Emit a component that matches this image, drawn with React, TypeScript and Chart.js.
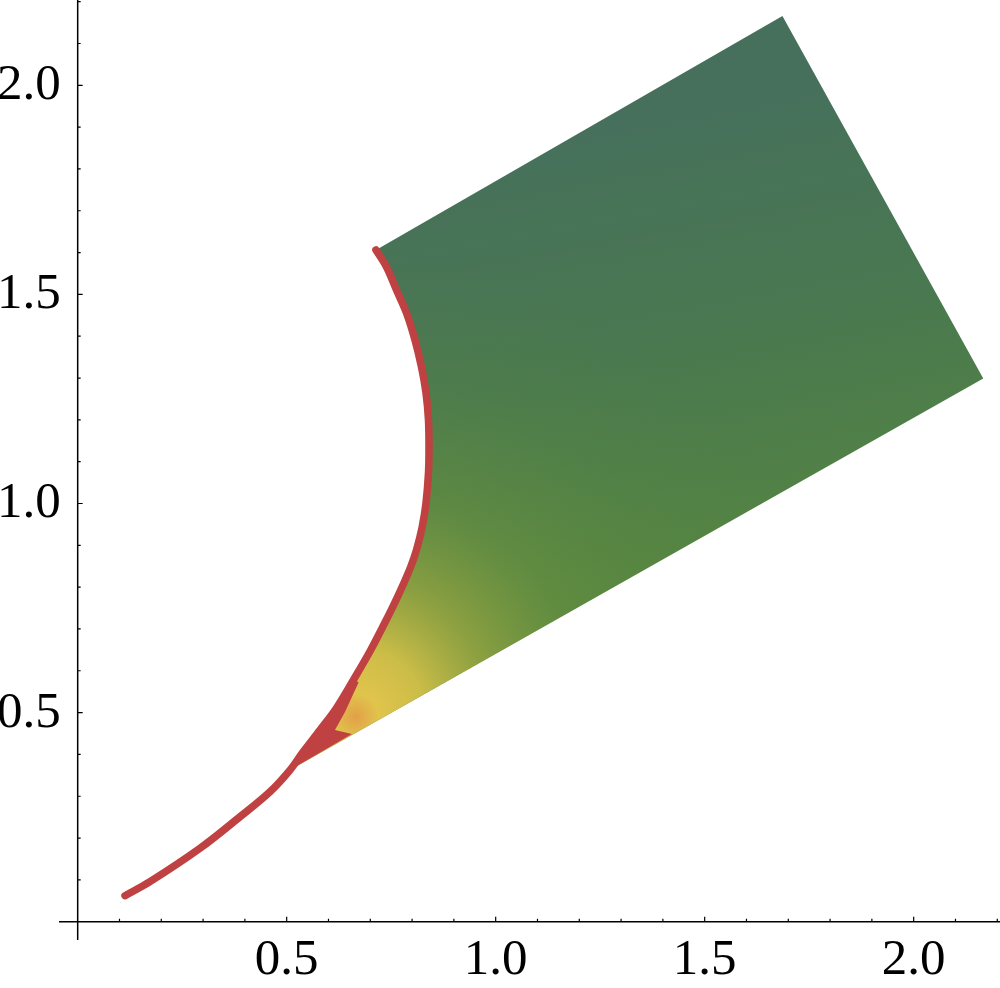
import React, { useEffect, useRef } from "react";
import { Chart, registerables } from "chart.js";

Chart.register(...registerables);

// Red boundary curve (fold curve), from the lower tip up to the upper-left corner
const curveX = [
  0.1132, 0.173, 0.2926, 0.3883, 0.4601, 0.5079, 0.539, 0.5797, 0.6191, 0.661,
  0.6997, 0.7296, 0.757, 0.7782, 0.7965, 0.8105, 0.8242, 0.8333, 0.8392, 0.8404,
  0.8392, 0.8333, 0.8225, 0.8069, 0.7866, 0.7627, 0.7388, 0.7136,
];
const curveY = [
  0.0622, 0.0957, 0.1755, 0.2509, 0.3107, 0.3625, 0.4058, 0.4584, 0.5109, 0.5803,
  0.6472, 0.7046, 0.7596, 0.8051, 0.8481, 0.8888, 0.9438, 1.0012, 1.0729, 1.1351,
  1.1996, 1.2642, 1.3264, 1.391, 1.4555, 1.5105, 1.5655, 1.6062,
];
// index on the curve where the straight lower edge meets it
const mergeIndex = 5;

// straight corners of the image region (top corner, right corner)
const cornerX = [1.686, 2.1665];
const cornerY = [2.166, 1.299];

// red wedge near the cusp
const cuspX = [0.5079, 0.539, 0.5797, 0.6191, 0.661, 0.672, 0.6395, 0.6155, 0.6562];
const cuspY = [0.3625, 0.4058, 0.4584, 0.5109, 0.5803, 0.572, 0.5014, 0.4584, 0.4487];

// axes
const xMajorTicks = [0.5, 1.0, 1.5, 2.0];
const xTickLabels = ["0.5", "1.0", "1.5", "2.0"];
const yMajorTicks = [0.5, 1.0, 1.5, 2.0];
const yTickLabels = ["0.5", "1.0", "1.5", "2.0"];
const xMinorTicks = [0.1, 0.2, 0.3, 0.4, 0.6, 0.7, 0.8, 0.9, 1.1, 1.2, 1.3, 1.4, 1.6, 1.7, 1.8, 1.9, 2.1, 2.2];
const yMinorTicks = [0.1, 0.2, 0.3, 0.4, 0.6, 0.7, 0.8, 0.9, 1.1, 1.2, 1.3, 1.4, 1.6, 1.7, 1.8, 1.9, 2.1, 2.2];

const X_MIN = -0.0447;
const X_MAX = 2.2065;
const Y_MIN = -0.0438;
const Y_MAX = 2.204;

function buildRegion() {
  const pts: { x: number; y: number }[] = [];
  const last = curveX.length - 1;
  pts.push({ x: curveX[last], y: curveY[last] });
  for (let i = 0; i < cornerX.length; i++) pts.push({ x: cornerX[i], y: cornerY[i] });
  for (let i = mergeIndex; i <= last; i++) pts.push({ x: curveX[i], y: curveY[i] });
  return pts;
}

const axesPlugin = {
  id: "mmaAxes",
  afterDraw(chart: any) {
    const { ctx, chartArea, scales } = chart;
    const xs = scales.x;
    const ys = scales.y;
    const x0 = xs.getPixelForValue(0);
    const y0 = ys.getPixelForValue(0);
    ctx.save();
    ctx.strokeStyle = "#000";
    ctx.lineWidth = 1.5;
    ctx.beginPath();
    ctx.moveTo(chartArea.left, y0);
    ctx.lineTo(chartArea.right, y0);
    ctx.moveTo(x0, chartArea.top);
    ctx.lineTo(x0, chartArea.bottom);
    ctx.stroke();

    ctx.lineWidth = 1.2;
    ctx.beginPath();
    xMajorTicks.forEach((v) => {
      const p = xs.getPixelForValue(v);
      ctx.moveTo(p, y0);
      ctx.lineTo(p, y0 - 5);
    });
    xMinorTicks.forEach((v) => {
      const p = xs.getPixelForValue(v);
      ctx.moveTo(p, y0);
      ctx.lineTo(p, y0 - 3);
    });
    yMajorTicks.forEach((v) => {
      const p = ys.getPixelForValue(v);
      ctx.moveTo(x0, p);
      ctx.lineTo(x0 + 5, p);
    });
    yMinorTicks.forEach((v) => {
      const p = ys.getPixelForValue(v);
      ctx.moveTo(x0, p);
      ctx.lineTo(x0 + 3, p);
    });
    ctx.stroke();

    ctx.fillStyle = "#000";
    ctx.font = "51px 'Liberation Serif', 'Times New Roman', serif";
    ctx.textAlign = "center";
    ctx.textBaseline = "alphabetic";
    xMajorTicks.forEach((v, i) => {
      ctx.fillText(xTickLabels[i], xs.getPixelForValue(v), y0 + 52);
    });
    ctx.textAlign = "right";
    yMajorTicks.forEach((v, i) => {
      ctx.fillText(yTickLabels[i], x0 - 17, ys.getPixelForValue(v) + 14);
    });
    ctx.restore();
  },
};

export default function App() {
  const canvasRef = useRef<HTMLCanvasElement | null>(null);

  useEffect(() => {
    document.body.style.margin = "0";
    const canvas = canvasRef.current;
    if (!canvas) return;

    const region = buildRegion();
    const curve = curveX.map((x, i) => ({ x, y: curveY[i] }));
    const cusp = cuspX.map((x, i) => ({ x, y: cuspY[i] }));

    const baseFill = (c: any) => {
      const chart = c.chart;
      const { ctx, chartArea, scales } = chart;
      if (!chartArea || !scales.x) return "rgb(76,122,78)";
      const g = ctx.createLinearGradient(
        scales.x.getPixelForValue(1.15),
        scales.y.getPixelForValue(1.9),
        scales.x.getPixelForValue(1.35),
        scales.y.getPixelForValue(0.85)
      );
      g.addColorStop(0, "rgb(70,112,92)");
      g.addColorStop(0.55, "rgb(74,121,79)");
      g.addColorStop(1, "rgb(84,132,67)");
      return g;
    };

    const glowFill = (c: any) => {
      const chart = c.chart;
      const { ctx, chartArea, scales } = chart;
      if (!chartArea || !scales.x) return "rgba(0,0,0,0)";
      const cx = scales.x.getPixelForValue(0.665);
      const cy = scales.y.getPixelForValue(0.49);
      const g = ctx.createRadialGradient(cx, cy, 0, cx, cy, 460);
      g.addColorStop(0, "rgba(226,160,72,1)");
      g.addColorStop(0.05, "rgba(224,196,76,1)");
      g.addColorStop(0.15, "rgba(210,192,72,0.95)");
      g.addColorStop(0.3, "rgba(160,170,64,0.72)");
      g.addColorStop(0.5, "rgba(112,150,60,0.42)");
      g.addColorStop(0.75, "rgba(98,142,60,0.15)");
      g.addColorStop(1, "rgba(95,140,60,0)");
      return g;
    };

    const chart = new Chart(canvas, {
      type: "scatter",
      data: {
        datasets: [
          {
            label: "fold",
            data: curve,
            showLine: true,
            borderColor: "#c04141",
            borderWidth: 7.5,
            borderCapStyle: "round",
            borderJoinStyle: "round",
            tension: 0.35,
            pointRadius: 0,
            fill: false,
            order: 0,
          },
          {
            label: "cusp",
            data: cusp,
            showLine: true,
            borderWidth: 0,
            borderColor: "rgba(0,0,0,0)",
            backgroundColor: "#c04141",
            pointRadius: 0,
            fill: "shape",
            order: 1,
          },
          {
            label: "glow",
            data: region,
            showLine: true,
            borderWidth: 0,
            borderColor: "rgba(0,0,0,0)",
            backgroundColor: glowFill,
            pointRadius: 0,
            fill: "shape",
            order: 2,
          },
          {
            label: "region",
            data: region,
            showLine: true,
            borderWidth: 0,
            borderColor: "rgba(0,0,0,0)",
            backgroundColor: baseFill,
            pointRadius: 0,
            fill: "shape",
            order: 3,
          },
        ],
      } as any,
      options: {
        responsive: false,
        animation: false,
        devicePixelRatio: 1,
        layout: { padding: { left: 59, right: 0, top: 0, bottom: 48 } },
        plugins: {
          legend: { display: false },
          tooltip: { enabled: false },
        },
        scales: {
          x: { type: "linear", min: X_MIN, max: X_MAX, display: false },
          y: { type: "linear", min: Y_MIN, max: Y_MAX, display: false },
        },
      } as any,
      plugins: [axesPlugin],
    });

    return () => chart.destroy();
  }, []);

  return (
    <div style={{ width: 1000, height: 988 }}>
      <canvas ref={canvasRef} width={1000} height={988} style={{ display: "block" }} />
    </div>
  );
}
